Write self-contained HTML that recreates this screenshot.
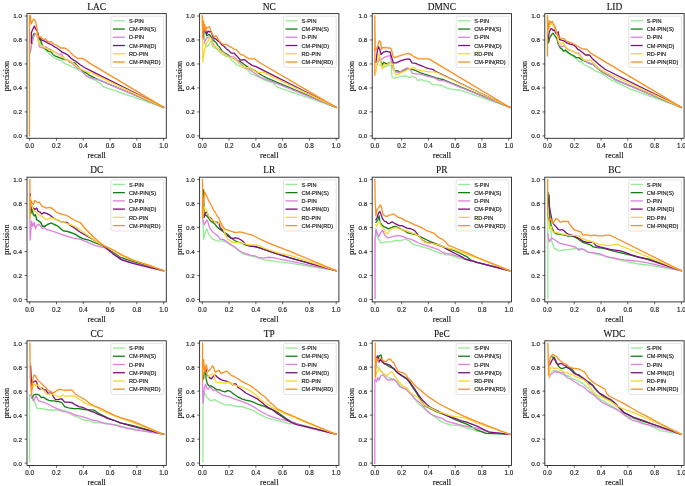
<!DOCTYPE html><html><head><meta charset="utf-8"><style>html,body{margin:0;padding:0;background:#fff;width:685px;height:486px;overflow:hidden}svg{display:block;will-change:transform}</style></head><body>
<svg width="685" height="486" viewBox="0 0 685 486">
<rect width="685" height="486" fill="#fff"/>
<clipPath id="c0"><rect x="27" y="13.6" width="139.3" height="124.7"/></clipPath>
<g clip-path="url(#c0)" fill="none" stroke-linejoin="round" stroke-linecap="square">
<path d="M30.24,53.19 32.19,38.93 34.13,35.04 35.43,33.74 37.37,35.04 39.32,40.22 41.91,46.7 45.15,49.3 48.39,53.19 51.63,55.78 54.22,57.72 58.11,59.67 62,60.96 62,61.5 64.59,63.45 67.19,64.74 69.78,65.39 72.37,67.33 74.96,67.98 78.85,69.93 82.74,72.52 86.63,76.41 90.52,78.35 95.7,80.3 99.59,82.89 103.48,86.78 107.37,88.08 163.6,107.3" stroke="#94eb94" stroke-width="1.3"/>
<path d="M32.25,43 33.17,35.22 34.41,33.37 35.64,33.99 36.88,33.37 38.11,35.22 39.35,38.93 40.58,40.16 43.2,47.35 45.8,49.3 48.39,51.24 50.98,51.89 52.93,54.48 54.87,55.78 58.11,57.08 61.35,58.37 64.59,59.67 67.19,59.56 69.78,62.15 72.37,62.8 74.96,62.8 77.56,66.04 80.15,68.63 84.04,71.87 86.63,73.17 89.22,75.11 93.11,77.06 97,79 163.6,107.3" stroke="#108010" stroke-width="1.3"/>
<path d="M30.24,51.89 32.83,38.93 34.78,33.74 36.72,35.04 38.02,38.93 39.32,46.7 40.61,47.35 43.2,48 45.8,46.7 48.39,48.65 50.98,49.95 54.22,51.89 58.11,53.83 62,54.48 62,55.02 64.59,58.91 68.48,60.85 72.37,63.45 76.26,67.33 80.15,69.28 82.74,71.87 85.33,75.11 89.22,77.06 93.11,78.35 98.3,79.65 163.6,107.3" stroke="#dd80de" stroke-width="1.3"/>
<path d="M31.32,43 31.32,32.75 33.17,28.43 34.41,25.96 35.64,29.05 36.88,30.28 38.11,33.37 38.73,37.69 39.96,38.31 41.91,40.22 43.85,40.87 46.45,42.17 48.39,43.46 51.63,44.76 54.22,46.7 56.82,48 59.41,49.95 62,51.89 62,52.43 64.59,53.07 67.83,55.02 71.07,58.26 73.67,60.2 76.26,61.5 80.15,64.74 85.33,67.98 90.52,70.58 163.6,107.3" stroke="#7d1080" stroke-width="1.3"/>
<path d="M36.26,33.37 37.37,35.04 38.67,42.82 39.96,44.76 41.91,45.41 43.2,47.35 45.15,48 47.74,48.65 49.69,50.59 52.28,50.59 54.87,52.54 58.11,54.48 61.35,56.43 62,56.32 65.89,59.56 69.78,60.85 73.67,63.45 77.56,66.69 81.45,69.28 85.33,71.22 89.22,72.52 91.82,73.17 163.6,107.3" stroke="#f8d830" stroke-width="1.3"/>
<path d="M29.5,135.9 29.5,15.6 30.4,15.47 31.01,24.11 33.48,19.17 34.72,19.79 36.26,24.11 37.19,30.28 38.11,35.84 39.35,37.07 40.58,36.46 41.81,38.31 43.05,38.93 44.28,39.54 45.52,38.93 45.8,38.93 47.09,40.87 49.04,42.17 50.98,41.52 52.93,43.46 55.52,44.76 58.11,46.06 60.7,48 64.59,48 67.19,49.3 69.78,51.89 73.67,55.78 77.56,58.37 82.74,58.37 87.93,61.61 87.93,62.15 163.6,107.3" stroke="#fa9020" stroke-width="1.3"/>
</g>
<rect x="27" y="13.6" width="139.3" height="124.7" fill="none" stroke="#262626" stroke-width="0.9"/>
<path d="M29.68,138.3 v2.4 M27,135.9 h-2.4 M56.47,138.3 v2.4 M27,111.92 h-2.4 M83.26,138.3 v2.4 M27,87.94 h-2.4 M110.04,138.3 v2.4 M27,63.96 h-2.4 M136.83,138.3 v2.4 M27,39.98 h-2.4 M163.62,138.3 v2.4 M27,16 h-2.4" stroke="#000" stroke-width="0.6" fill="none"/>
<g font-family="Liberation Sans, sans-serif" font-size="6.3" fill="#222" stroke="#222" stroke-width="0.16"><text x="29.68" y="147.9" text-anchor="middle">0.0</text><text transform="translate(22.1,138.35) scale(1,0.9)" text-anchor="end">0.0</text><text x="56.47" y="147.9" text-anchor="middle">0.2</text><text transform="translate(22.1,114.37) scale(1,0.9)" text-anchor="end">0.2</text><text x="83.26" y="147.9" text-anchor="middle">0.4</text><text transform="translate(22.1,90.39) scale(1,0.9)" text-anchor="end">0.4</text><text x="110.04" y="147.9" text-anchor="middle">0.6</text><text transform="translate(22.1,66.41) scale(1,0.9)" text-anchor="end">0.6</text><text x="136.83" y="147.9" text-anchor="middle">0.8</text><text transform="translate(22.1,42.43) scale(1,0.9)" text-anchor="end">0.8</text><text x="163.62" y="147.9" text-anchor="middle">1.0</text><text transform="translate(22.1,18.45) scale(1,0.9)" text-anchor="end">1.0</text></g>
<g font-family="Liberation Serif, serif" fill="#111" stroke="#111" stroke-width="0.12">
<text x="96.65" y="157.9" text-anchor="middle" font-size="8.3">recall</text>
<text transform="translate(9.1,75.95) rotate(-90)" text-anchor="middle" font-size="8.3">precision</text>
<text x="96.65" y="9.5" text-anchor="middle" font-size="9.4">LAC</text>
</g>
<rect x="110.9" y="16.2" width="52.7" height="51.2" rx="1.5" fill="#fff" fill-opacity="0.8" stroke="#d0d0d0" stroke-width="0.6"/>
<g font-family="Liberation Sans, sans-serif" font-size="6.2" fill="#222" stroke="#222" stroke-width="0.18"><path d="M112.9,20.8 h12" stroke="#94eb94" stroke-width="1.3"/><text transform="translate(129,23) scale(0.9,1)">S-PIN</text><path d="M112.9,29.04 h12" stroke="#108010" stroke-width="1.3"/><text transform="translate(129,31.24) scale(0.9,1)">CM-PIN(S)</text><path d="M112.9,37.28 h12" stroke="#dd80de" stroke-width="1.3"/><text transform="translate(129,39.48) scale(0.9,1)">D-PIN</text><path d="M112.9,45.52 h12" stroke="#7d1080" stroke-width="1.3"/><text transform="translate(129,47.72) scale(0.9,1)">CM-PIN(D)</text><path d="M112.9,53.76 h12" stroke="#f8d830" stroke-width="1.3"/><text transform="translate(129,55.96) scale(0.9,1)">RD-PIN</text><path d="M112.9,62 h12" stroke="#fa9020" stroke-width="1.3"/><text transform="translate(129,64.2) scale(0.9,1)">CM-PIN(RD)</text></g>
<clipPath id="c1"><rect x="199.6" y="13.6" width="139.3" height="124.7"/></clipPath>
<g clip-path="url(#c1)" fill="none" stroke-linejoin="round" stroke-linecap="square">
<path d="M203.54,24.67 204.83,42.82 206.13,46.7 208.07,46.06 210.02,42.82 211.32,40.22 212.61,46.7 214.56,48 217.15,49.3 219.74,51.89 222.33,54.48 224.93,55.78 228.82,57.08 231.41,59.67 234,62.26 236.59,64.74 240.48,66.69 244.37,67.98 248.26,70.58 250.85,73.82 254.74,75.11 259.93,77.7 265.11,80.3 269,81.59 272.89,82.89 275.48,85.48 278.08,87.43 336.2,107.3" stroke="#94eb94" stroke-width="1.3"/>
<path d="M203.54,25.96 204.83,29.85 206.78,35.69 208.72,34.39 210.67,35.69 211.96,38.93 213.91,40.87 215.85,42.17 217.8,45.41 219.74,47.35 222.33,51.24 224.93,53.19 227.52,54.48 230.11,56.43 232.7,57.72 235.3,59.02 237.89,61.61 239.19,60.85 243.07,63.45 246.96,66.69 250.85,68.63 254.74,70.58 258.63,73.17 262.52,75.76 267.7,78.35 336.2,107.3" stroke="#108010" stroke-width="1.3"/>
<path d="M204.19,42.82 206.78,37.63 209.37,36.98 211.32,38.28 213.26,44.11 215.2,46.7 217.15,48.65 219.74,49.95 222.33,51.89 224.93,53.83 228.17,55.78 231.41,57.08 234,56.96 237.89,60.85 241.78,64.74 244.37,67.98 248.26,68.63 253.45,72.52 257.33,75.11 261.22,77.7 266.41,79.65 270.3,80.95 336.2,107.3" stroke="#dd80de" stroke-width="1.3"/>
<path d="M202.89,38.93 204.19,28.56 205.48,29.85 206.78,33.74 208.07,31.15 209.37,31.8 210.67,31.15 211.96,33.74 213.26,38.28 214.56,38.93 215.85,38.93 217.8,40.87 219.74,42.17 221.69,44.76 223.63,46.06 226.22,48.65 228.82,50.59 231.41,53.19 234,53.07 236.59,55.67 240.48,60.2 244.37,59.56 248.26,62.8 252.15,65.39 256.04,66.69 259.93,68.63 336.2,107.3" stroke="#7d1080" stroke-width="1.3"/>
<path d="M202.24,16.89 202.89,62.26 204.19,51.89 206.13,44.11 208.07,40.87 210.02,37.63 211.32,38.93 212.61,45.41 214.56,46.06 217.15,48 219.74,50.59 222.33,52.54 224.93,54.48 228.82,57.08 232.7,57.72 234,58.26 237.89,62.15 241.78,66.04 245.67,67.98 248.91,67.33 252.15,69.28 256.04,71.87 259.93,72.52 262.52,71.87 336.2,107.3" stroke="#f8d830" stroke-width="1.3"/>
<path d="M202.24,15.59 202.89,37.63 203.54,20.78 204.19,29.85 204.83,24.67 205.48,31.15 206.78,27.26 208.07,27.91 209.37,26.61 210.67,29.85 211.96,33.74 213.26,35.69 214.56,36.98 215.85,35.69 217.15,37.63 219.09,40.87 221.04,42.82 223.63,44.76 226.22,44.11 228.82,46.06 231.41,47.35 234,49.19 236.59,49.83 240.48,54.37 243.07,55.02 246.96,57.61 249.56,58.91 254.74,58.91 259.93,62.8 336.2,107.3" stroke="#fa9020" stroke-width="1.3"/>
</g>
<rect x="199.6" y="13.6" width="139.3" height="124.7" fill="none" stroke="#262626" stroke-width="0.9"/>
<path d="M202.28,138.3 v2.4 M199.6,135.9 h-2.4 M229.07,138.3 v2.4 M199.6,111.92 h-2.4 M255.86,138.3 v2.4 M199.6,87.94 h-2.4 M282.64,138.3 v2.4 M199.6,63.96 h-2.4 M309.43,138.3 v2.4 M199.6,39.98 h-2.4 M336.22,138.3 v2.4 M199.6,16 h-2.4" stroke="#000" stroke-width="0.6" fill="none"/>
<g font-family="Liberation Sans, sans-serif" font-size="6.3" fill="#222" stroke="#222" stroke-width="0.16"><text x="202.28" y="147.9" text-anchor="middle">0.0</text><text transform="translate(194.7,138.35) scale(1,0.9)" text-anchor="end">0.0</text><text x="229.07" y="147.9" text-anchor="middle">0.2</text><text transform="translate(194.7,114.37) scale(1,0.9)" text-anchor="end">0.2</text><text x="255.86" y="147.9" text-anchor="middle">0.4</text><text transform="translate(194.7,90.39) scale(1,0.9)" text-anchor="end">0.4</text><text x="282.64" y="147.9" text-anchor="middle">0.6</text><text transform="translate(194.7,66.41) scale(1,0.9)" text-anchor="end">0.6</text><text x="309.43" y="147.9" text-anchor="middle">0.8</text><text transform="translate(194.7,42.43) scale(1,0.9)" text-anchor="end">0.8</text><text x="336.22" y="147.9" text-anchor="middle">1.0</text><text transform="translate(194.7,18.45) scale(1,0.9)" text-anchor="end">1.0</text></g>
<g font-family="Liberation Serif, serif" fill="#111" stroke="#111" stroke-width="0.12">
<text x="269.25" y="157.9" text-anchor="middle" font-size="8.3">recall</text>
<text transform="translate(181.7,75.95) rotate(-90)" text-anchor="middle" font-size="8.3">precision</text>
<text x="269.25" y="9.5" text-anchor="middle" font-size="9.4">NC</text>
</g>
<rect x="283.5" y="16.2" width="52.7" height="51.2" rx="1.5" fill="#fff" fill-opacity="0.8" stroke="#d0d0d0" stroke-width="0.6"/>
<g font-family="Liberation Sans, sans-serif" font-size="6.2" fill="#222" stroke="#222" stroke-width="0.18"><path d="M285.5,20.8 h12" stroke="#94eb94" stroke-width="1.3"/><text transform="translate(301.6,23) scale(0.9,1)">S-PIN</text><path d="M285.5,29.04 h12" stroke="#108010" stroke-width="1.3"/><text transform="translate(301.6,31.24) scale(0.9,1)">CM-PIN(S)</text><path d="M285.5,37.28 h12" stroke="#dd80de" stroke-width="1.3"/><text transform="translate(301.6,39.48) scale(0.9,1)">D-PIN</text><path d="M285.5,45.52 h12" stroke="#7d1080" stroke-width="1.3"/><text transform="translate(301.6,47.72) scale(0.9,1)">CM-PIN(D)</text><path d="M285.5,53.76 h12" stroke="#f8d830" stroke-width="1.3"/><text transform="translate(301.6,55.96) scale(0.9,1)">RD-PIN</text><path d="M285.5,62 h12" stroke="#fa9020" stroke-width="1.3"/><text transform="translate(301.6,64.2) scale(0.9,1)">CM-PIN(RD)</text></g>
<clipPath id="c2"><rect x="372.2" y="13.6" width="139.3" height="124.7"/></clipPath>
<g clip-path="url(#c2)" fill="none" stroke-linejoin="round" stroke-linecap="square">
<path d="M379.78,64.85 383.67,67.45 386.26,66.15 388.85,64.85 391.45,66.15 391.94,76.41 393.89,78.35 397.78,77.06 401.67,76.41 405.56,75.76 409.45,77.7 412.04,76.41 413.98,77.06 415.93,77.7 417.22,80.3 421.11,79.65 425,80.95 428.89,81.59 432.78,84.83 436.67,84.83 441.85,85.48 447.04,88.08 452.22,89.37 460,90.02 509.8,107.3" stroke="#94eb94" stroke-width="1.3"/>
<path d="M379.13,58.37 382.37,64.85 383.67,62.26 384.96,62.91 386.91,64.21 388.85,62.91 390.8,62.26 392.74,64.85 394.69,71.34 396.48,70.58 400.37,71.87 404.26,70.58 408.15,68.63 412.04,69.28 415.93,70.58 419.82,72.52 423.7,73.82 427.59,75.11 431.48,76.41 435.37,77.7 439.26,78.74 443.15,79.65 509.8,107.3" stroke="#108010" stroke-width="1.3"/>
<path d="M377.19,64.85 379.13,58.37 381.07,59.67 383.02,58.37 384.96,57.08 386.91,56.43 388.85,55.78 390.15,55.13 392.59,67.33 395.19,71.87 399.07,72.52 402.96,69.93 406.85,67.98 410.09,68.63 412.04,73.17 415.93,73.82 419.82,73.82 423.7,75.11 427.59,76.41 431.48,77.06 435.37,78.35 439.26,80.3 444.45,80.95 509.8,107.3" stroke="#dd80de" stroke-width="1.3"/>
<path d="M375.89,62.26 377.19,51.89 378.48,46.7 379.78,49.3 381.07,54.48 382.37,53.19 383.67,51.89 384.96,51.89 386.26,51.24 388.2,51.89 390,51.78 391.94,58.26 393.24,62.8 396.48,62.8 400.37,60.85 404.26,59.56 408.15,58.91 410.09,59.56 412.04,62.8 415.93,63.45 418.52,64.74 422.41,66.04 426.3,67.98 428.89,68.63 432.78,69.28 435.37,71.22 509.8,107.3" stroke="#7d1080" stroke-width="1.3"/>
<path d="M375.89,72.63 377.19,63.56 379.13,53.19 380.43,60.96 382.37,68.74 384.32,64.85 386.91,64.85 388.85,63.56 390,62.15 392.59,64.74 395.19,73.82 396.48,75.11 400.37,73.17 404.26,71.22 408.15,69.28 412.04,67.98 414.63,67.98 417.22,69.93 421.11,70.58 425,71.22 428.89,71.87 434.08,71.87 436.67,72.52 509.8,107.3" stroke="#f8d830" stroke-width="1.3"/>
<path d="M374.85,75.22 374.85,15.59 375.24,50.59 376.54,49.3 377.83,45.41 379.13,40.87 380.43,41.52 381.72,49.3 383.02,47.35 384.32,48 385.61,47.35 387.56,48 390,47.89 391.3,49.19 393.24,56.96 395.19,57.61 397.78,56.32 400.37,55.67 404.26,54.37 408.15,53.33 410.74,54.37 413.33,56.32 415.93,57.61 418.52,58.91 422.41,58.91 428.89,58.91 509.8,107.3" stroke="#fa9020" stroke-width="1.3"/>
</g>
<rect x="372.2" y="13.6" width="139.3" height="124.7" fill="none" stroke="#262626" stroke-width="0.9"/>
<path d="M374.88,138.3 v2.4 M372.2,135.9 h-2.4 M401.67,138.3 v2.4 M372.2,111.92 h-2.4 M428.46,138.3 v2.4 M372.2,87.94 h-2.4 M455.24,138.3 v2.4 M372.2,63.96 h-2.4 M482.03,138.3 v2.4 M372.2,39.98 h-2.4 M508.82,138.3 v2.4 M372.2,16 h-2.4" stroke="#000" stroke-width="0.6" fill="none"/>
<g font-family="Liberation Sans, sans-serif" font-size="6.3" fill="#222" stroke="#222" stroke-width="0.16"><text x="374.88" y="147.9" text-anchor="middle">0.0</text><text transform="translate(367.3,138.35) scale(1,0.9)" text-anchor="end">0.0</text><text x="401.67" y="147.9" text-anchor="middle">0.2</text><text transform="translate(367.3,114.37) scale(1,0.9)" text-anchor="end">0.2</text><text x="428.46" y="147.9" text-anchor="middle">0.4</text><text transform="translate(367.3,90.39) scale(1,0.9)" text-anchor="end">0.4</text><text x="455.24" y="147.9" text-anchor="middle">0.6</text><text transform="translate(367.3,66.41) scale(1,0.9)" text-anchor="end">0.6</text><text x="482.03" y="147.9" text-anchor="middle">0.8</text><text transform="translate(367.3,42.43) scale(1,0.9)" text-anchor="end">0.8</text><text x="508.82" y="147.9" text-anchor="middle">1.0</text><text transform="translate(367.3,18.45) scale(1,0.9)" text-anchor="end">1.0</text></g>
<g font-family="Liberation Serif, serif" fill="#111" stroke="#111" stroke-width="0.12">
<text x="441.85" y="157.9" text-anchor="middle" font-size="8.3">recall</text>
<text transform="translate(354.3,75.95) rotate(-90)" text-anchor="middle" font-size="8.3">precision</text>
<text x="441.85" y="9.5" text-anchor="middle" font-size="9.4">DMNC</text>
</g>
<rect x="456.1" y="16.2" width="52.7" height="51.2" rx="1.5" fill="#fff" fill-opacity="0.8" stroke="#d0d0d0" stroke-width="0.6"/>
<g font-family="Liberation Sans, sans-serif" font-size="6.2" fill="#222" stroke="#222" stroke-width="0.18"><path d="M458.1,20.8 h12" stroke="#94eb94" stroke-width="1.3"/><text transform="translate(474.2,23) scale(0.9,1)">S-PIN</text><path d="M458.1,29.04 h12" stroke="#108010" stroke-width="1.3"/><text transform="translate(474.2,31.24) scale(0.9,1)">CM-PIN(S)</text><path d="M458.1,37.28 h12" stroke="#dd80de" stroke-width="1.3"/><text transform="translate(474.2,39.48) scale(0.9,1)">D-PIN</text><path d="M458.1,45.52 h12" stroke="#7d1080" stroke-width="1.3"/><text transform="translate(474.2,47.72) scale(0.9,1)">CM-PIN(D)</text><path d="M458.1,53.76 h12" stroke="#f8d830" stroke-width="1.3"/><text transform="translate(474.2,55.96) scale(0.9,1)">RD-PIN</text><path d="M458.1,62 h12" stroke="#fa9020" stroke-width="1.3"/><text transform="translate(474.2,64.2) scale(0.9,1)">CM-PIN(RD)</text></g>
<clipPath id="c3"><rect x="544.8" y="13.6" width="139.3" height="124.7"/></clipPath>
<g clip-path="url(#c3)" fill="none" stroke-linejoin="round" stroke-linecap="square">
<path d="M560.2,46.06 563.45,50.59 566.69,51.89 569.93,54.48 573.17,56.43 576.41,59.02 579,60.96 579,62.15 581.59,61.5 584.19,64.74 588.07,66.69 591.96,68.63 595.85,71.22 601.04,73.17 604.93,75.11 607.52,77.7 611.41,80.3 615.3,81.59 620.48,84.19 625.67,86.78 630.85,89.37 637.34,91.32 649,95.85 681.4,107.3" stroke="#94eb94" stroke-width="1.3"/>
<path d="M548.54,42.82 549.83,37.63 551.78,34.39 553.07,33.09 554.37,35.04 555.67,36.98 556.96,38.93 558.26,44.11 560.2,48 562.15,49.3 563.45,51.24 565.39,49.95 567.33,51.89 569.28,53.19 571.22,54.48 573.82,55.78 576.41,57.72 579,57.61 581.59,59.56 585.48,61.5 589.37,63.45 593.26,64.74 595.85,66.69 598.45,69.28 602.33,71.87 610.11,76.41 615.3,79.65 681.4,107.3" stroke="#108010" stroke-width="1.3"/>
<path d="M558.26,44.11 560.2,46.06 562.15,46.7 564.09,45.41 566.04,48 568.63,49.95 571.22,50.59 573.82,51.89 576.41,53.19 579,53.07 582.89,59.56 586.78,62.15 590.67,63.45 594.56,65.39 599.74,69.93 604.93,73.17 610.11,76.41 615.3,79.65 681.4,107.3" stroke="#dd80de" stroke-width="1.3"/>
<path d="M547.89,41.52 549.19,32.45 550.48,29.2 551.78,28.56 553.07,30.5 554.37,29.85 555.67,33.09 556.96,34.39 558.26,31.8 559.56,39.58 561.5,40.22 564.09,40.87 566.69,42.82 569.93,44.11 573.17,44.76 575.76,46.7 577.7,49.3 579,49.83 581.59,51.78 585.48,55.02 589.37,55.02 593.26,59.56 598.45,64.09 604.93,69.28 681.4,107.3" stroke="#7d1080" stroke-width="1.3"/>
<path d="M547.89,32.45 549.83,23.37 551.78,24.67 553.72,26.61 555.67,29.85 556.96,33.74 558.26,41.52 559.56,42.82 561.5,44.11 563.45,42.17 564.74,45.41 566.69,48 569.93,49.95 573.17,51.24 576.41,53.19 579,54.37 581.59,57.61 584.19,60.2 588.07,60.2 590.67,60.2 593.26,62.8 598.45,67.98 603.63,71.22 681.4,107.3" stroke="#f8d830" stroke-width="1.3"/>
<path d="M547.5,55.78 547.5,15.59 548.54,28.56 549.83,20.78 551.13,22.72 552.43,21.43 553.72,24.67 555.02,26.61 556.32,31.15 557.61,35.04 558.91,37.63 560.85,38.28 563.45,38.28 566.04,40.87 569.28,42.17 572.52,43.46 575.11,44.76 577.7,46.06 579,47.24 582.89,49.19 586.78,49.19 590.67,53.07 681.4,107.3" stroke="#fa9020" stroke-width="1.3"/>
</g>
<rect x="544.8" y="13.6" width="139.3" height="124.7" fill="none" stroke="#262626" stroke-width="0.9"/>
<path d="M547.48,138.3 v2.4 M544.8,135.9 h-2.4 M574.27,138.3 v2.4 M544.8,111.92 h-2.4 M601.06,138.3 v2.4 M544.8,87.94 h-2.4 M627.84,138.3 v2.4 M544.8,63.96 h-2.4 M654.63,138.3 v2.4 M544.8,39.98 h-2.4 M681.42,138.3 v2.4 M544.8,16 h-2.4" stroke="#000" stroke-width="0.6" fill="none"/>
<g font-family="Liberation Sans, sans-serif" font-size="6.3" fill="#222" stroke="#222" stroke-width="0.16"><text x="547.48" y="147.9" text-anchor="middle">0.0</text><text transform="translate(539.9,138.35) scale(1,0.9)" text-anchor="end">0.0</text><text x="574.27" y="147.9" text-anchor="middle">0.2</text><text transform="translate(539.9,114.37) scale(1,0.9)" text-anchor="end">0.2</text><text x="601.06" y="147.9" text-anchor="middle">0.4</text><text transform="translate(539.9,90.39) scale(1,0.9)" text-anchor="end">0.4</text><text x="627.84" y="147.9" text-anchor="middle">0.6</text><text transform="translate(539.9,66.41) scale(1,0.9)" text-anchor="end">0.6</text><text x="654.63" y="147.9" text-anchor="middle">0.8</text><text transform="translate(539.9,42.43) scale(1,0.9)" text-anchor="end">0.8</text><text x="681.42" y="147.9" text-anchor="middle">1.0</text><text transform="translate(539.9,18.45) scale(1,0.9)" text-anchor="end">1.0</text></g>
<g font-family="Liberation Serif, serif" fill="#111" stroke="#111" stroke-width="0.12">
<text x="614.45" y="157.9" text-anchor="middle" font-size="8.3">recall</text>
<text transform="translate(526.9,75.95) rotate(-90)" text-anchor="middle" font-size="8.3">precision</text>
<text x="614.45" y="9.5" text-anchor="middle" font-size="9.4">LID</text>
</g>
<rect x="628.7" y="16.2" width="52.7" height="51.2" rx="1.5" fill="#fff" fill-opacity="0.8" stroke="#d0d0d0" stroke-width="0.6"/>
<g font-family="Liberation Sans, sans-serif" font-size="6.2" fill="#222" stroke="#222" stroke-width="0.18"><path d="M630.7,20.8 h12" stroke="#94eb94" stroke-width="1.3"/><text transform="translate(646.8,23) scale(0.9,1)">S-PIN</text><path d="M630.7,29.04 h12" stroke="#108010" stroke-width="1.3"/><text transform="translate(646.8,31.24) scale(0.9,1)">CM-PIN(S)</text><path d="M630.7,37.28 h12" stroke="#dd80de" stroke-width="1.3"/><text transform="translate(646.8,39.48) scale(0.9,1)">D-PIN</text><path d="M630.7,45.52 h12" stroke="#7d1080" stroke-width="1.3"/><text transform="translate(646.8,47.72) scale(0.9,1)">CM-PIN(D)</text><path d="M630.7,53.76 h12" stroke="#f8d830" stroke-width="1.3"/><text transform="translate(646.8,55.96) scale(0.9,1)">RD-PIN</text><path d="M630.7,62 h12" stroke="#fa9020" stroke-width="1.3"/><text transform="translate(646.8,64.2) scale(0.9,1)">CM-PIN(RD)</text></g>
<clipPath id="c4"><rect x="27" y="177.2" width="139.3" height="124.7"/></clipPath>
<g clip-path="url(#c4)" fill="none" stroke-linejoin="round" stroke-linecap="square">
<path d="M30.89,213.3 32.19,207.46 32.83,213.3 34.13,215.89 35.43,214.59 36.72,219.78 38.67,221.08 40.61,222.37 42.56,226.26 45.15,226.26 47.74,224.32 50.98,223.02 54.22,224.32 58.11,226.26 60.7,228.85 63.3,230.8 67.19,231.45 71.08,232.74 74.96,234.04 78.85,236.63 82.74,238.58 87.78,239.76 95.56,243 103.98,246.24 112.41,252.08 120.19,257.26 131.85,261.15 150,266.98 163.6,270.7" stroke="#94eb94" stroke-width="1.3"/>
<path d="M30.89,213.3 32.19,207.46 32.83,213.3 34.13,215.89 35.43,214.59 36.72,219.78 38.67,221.08 40.61,222.37 42.56,226.26 45.15,226.26 47.74,224.32 50.98,223.02 54.22,224.32 58.11,226.26 60.7,228.85 63.3,230.8 67.19,231.45 71.08,232.74 74.96,234.04 78.85,236.63 82.74,238.58 87.78,239.76 95.56,243 103.98,246.24 112.41,252.08 120.19,257.26 131.85,261.15 150,266.98 163.6,270.7" stroke="#108010" stroke-width="1.3"/>
<path d="M29.85,219.78 30.24,240 31.54,221.08 32.83,226.26 34.13,222.37 35.43,228.85 36.72,225.61 38.67,224.32 40.61,226.26 42.56,228.85 44.5,227.56 46.45,229.5 49.04,230.15 52.93,231.45 56.82,232.74 60.7,234.04 64.59,235.34 68.48,236.63 72.37,237.93 80,239.11 87.78,242.35 95.56,245.59 103.98,247.54 112.41,252.72 120.19,258.56 131.85,262.45 150,267.37 163.6,270.7" stroke="#dd80de" stroke-width="1.3"/>
<path d="M30.24,193.85 30.89,209.41 31.54,205.52 32.83,208.11 34.78,209.41 36.72,208.11 38.02,211.35 39.96,212 41.91,213.95 43.85,212.65 46.45,213.3 49.04,214.59 51.63,216.54 54.22,218.48 58.11,220.43 60.7,221.72 64.59,222.37 67.19,222.37 69.78,224.96 73.67,227.56 77.56,230.15 80,231.98 87.78,236.52 95.56,241.06 103.98,246.24 112.41,253.37 121.48,259.85 131.85,263.09 150,267.63 163.6,270.7" stroke="#7d1080" stroke-width="1.3"/>
<path d="M30.24,196.45 30.89,202.93 32.19,206.82 33.48,210.7 36.07,212 38.67,214.59 41.26,215.89 43.85,217.83 46.45,219.78 49.04,218.48 51.63,217.83 55.52,219.13 59.41,221.08 63.3,222.37 67.19,223.67 71.08,224.96 74.96,226.26 78.85,228.85 80,229.39 86.48,234.58 92.96,239.11 99.45,243.65 103.98,245.59 112.41,250.13 121.48,255.32 131.85,259.85 150,265.69 163.6,270.7" stroke="#f8d830" stroke-width="1.3"/>
<path d="M29.85,179.59 29.85,218.48 30.89,200.33 32.19,202.93 33.48,204.22 34.78,200.33 36.07,201.63 37.37,202.28 39.32,202.28 40.61,204.22 41.91,206.17 43.85,206.82 46.45,208.11 49.04,207.46 51.63,208.11 54.22,210.06 56.17,212 59.41,213.3 63.3,214.59 65.89,215.24 69.78,217.19 73.67,219.78 77.56,221.72 80,222.26 86.48,230.04 92.96,236.52 99.45,242.35 103.98,245.59 112.41,249.48 122.78,255.32 134.45,260.5 150,265.69 163.6,270.7" stroke="#fa9020" stroke-width="1.3"/>
</g>
<rect x="27" y="177.2" width="139.3" height="124.7" fill="none" stroke="#262626" stroke-width="0.9"/>
<path d="M29.68,301.9 v2.4 M27,299.5 h-2.4 M56.47,301.9 v2.4 M27,275.52 h-2.4 M83.26,301.9 v2.4 M27,251.54 h-2.4 M110.04,301.9 v2.4 M27,227.56 h-2.4 M136.83,301.9 v2.4 M27,203.58 h-2.4 M163.62,301.9 v2.4 M27,179.6 h-2.4" stroke="#000" stroke-width="0.6" fill="none"/>
<g font-family="Liberation Sans, sans-serif" font-size="6.3" fill="#222" stroke="#222" stroke-width="0.16"><text x="29.68" y="311.5" text-anchor="middle">0.0</text><text transform="translate(22.1,301.95) scale(1,0.9)" text-anchor="end">0.0</text><text x="56.47" y="311.5" text-anchor="middle">0.2</text><text transform="translate(22.1,277.97) scale(1,0.9)" text-anchor="end">0.2</text><text x="83.26" y="311.5" text-anchor="middle">0.4</text><text transform="translate(22.1,253.99) scale(1,0.9)" text-anchor="end">0.4</text><text x="110.04" y="311.5" text-anchor="middle">0.6</text><text transform="translate(22.1,230.01) scale(1,0.9)" text-anchor="end">0.6</text><text x="136.83" y="311.5" text-anchor="middle">0.8</text><text transform="translate(22.1,206.03) scale(1,0.9)" text-anchor="end">0.8</text><text x="163.62" y="311.5" text-anchor="middle">1.0</text><text transform="translate(22.1,182.05) scale(1,0.9)" text-anchor="end">1.0</text></g>
<g font-family="Liberation Serif, serif" fill="#111" stroke="#111" stroke-width="0.12">
<text x="96.65" y="321.5" text-anchor="middle" font-size="8.3">recall</text>
<text transform="translate(9.1,239.55) rotate(-90)" text-anchor="middle" font-size="8.3">precision</text>
<text x="96.65" y="173.1" text-anchor="middle" font-size="9.4">DC</text>
</g>
<rect x="110.9" y="179.8" width="52.7" height="51.2" rx="1.5" fill="#fff" fill-opacity="0.8" stroke="#d0d0d0" stroke-width="0.6"/>
<g font-family="Liberation Sans, sans-serif" font-size="6.2" fill="#222" stroke="#222" stroke-width="0.18"><path d="M112.9,184.4 h12" stroke="#94eb94" stroke-width="1.3"/><text transform="translate(129,186.6) scale(0.9,1)">S-PIN</text><path d="M112.9,192.64 h12" stroke="#108010" stroke-width="1.3"/><text transform="translate(129,194.84) scale(0.9,1)">CM-PIN(S)</text><path d="M112.9,200.88 h12" stroke="#dd80de" stroke-width="1.3"/><text transform="translate(129,203.08) scale(0.9,1)">D-PIN</text><path d="M112.9,209.12 h12" stroke="#7d1080" stroke-width="1.3"/><text transform="translate(129,211.32) scale(0.9,1)">CM-PIN(D)</text><path d="M112.9,217.36 h12" stroke="#f8d830" stroke-width="1.3"/><text transform="translate(129,219.56) scale(0.9,1)">RD-PIN</text><path d="M112.9,225.6 h12" stroke="#fa9020" stroke-width="1.3"/><text transform="translate(129,227.8) scale(0.9,1)">CM-PIN(RD)</text></g>
<clipPath id="c5"><rect x="199.6" y="177.2" width="139.3" height="124.7"/></clipPath>
<g clip-path="url(#c5)" fill="none" stroke-linejoin="round" stroke-linecap="square">
<path d="M202.89,218.48 203.54,239.22 205.48,231.45 206.78,228.85 208.72,234.04 210.67,236.63 212.61,239.22 216.5,240.52 220,241.06 223.89,241.06 227.78,243 231.67,245.59 235.56,248.19 239.45,251.43 243.33,254.02 248.52,255.32 253.7,256.61 258.89,257.91 264.08,259.85 269.26,260.5 274.45,261.15 279.63,261.8 290,263.09 336.2,270.7" stroke="#94eb94" stroke-width="1.3"/>
<path d="M203.54,189.96 204.19,215.89 204.83,214.59 206.78,215.89 208.72,218.48 210.67,221.08 212.61,222.37 214.56,223.67 216.5,226.26 218.45,228.21 220,229.39 223.89,231.98 227.78,234.58 231.67,238.46 235.56,241.06 240.74,243 245.93,244.95 251.11,246.24 256.3,246.89 260.19,248.19 271.85,252.08 279.63,254.67 290,257.91 336.2,270.7" stroke="#108010" stroke-width="1.3"/>
<path d="M202.89,219.78 204.19,224.96 205.48,222.37 206.78,219.78 208.07,222.37 209.37,227.56 211.32,230.15 213.26,232.74 215.2,234.04 217.15,235.34 219.09,237.28 220,239.11 223.89,239.76 227.78,242.35 231.67,244.95 235.56,247.54 239.45,250.78 243.33,252.72 247.22,254.02 251.11,255.32 255,255.96 258.89,257.91 264.08,257.91 269.26,257.26 274.45,257.91 279.63,259.21 290,261.15 336.2,270.7" stroke="#dd80de" stroke-width="1.3"/>
<path d="M204.19,217.19 205.48,212.65 206.78,212 208.07,215.24 209.37,217.19 211.32,218.48 213.26,221.08 215.2,221.72 217.15,222.37 219.09,223.67 220,227.45 222.59,230.04 225.19,233.93 227.78,235.87 230.37,237.82 232.96,238.46 235.56,237.82 238.15,238.46 240.74,239.76 243.33,241.7 245.93,244.95 249.82,246.24 253.7,246.24 258.89,247.54 264.08,249.48 271.85,252.08 279.63,254.67 290,257.91 336.2,270.7" stroke="#7d1080" stroke-width="1.3"/>
<path d="M202.89,215.89 204.19,206.82 205.48,208.76 206.78,210.7 208.07,214.59 210.02,218.48 211.96,219.78 213.91,221.08 215.85,222.37 217.8,223.67 220,222.26 222.59,227.45 225.19,233.93 227.78,239.11 230.37,241.06 232.96,242.35 236.85,242.35 240.74,243 244.63,243.65 248.52,244.95 253.7,244.95 258.89,245.59 264.08,248.19 271.85,250.78 279.63,253.37 290,255.32 336.2,270.7" stroke="#f8d830" stroke-width="1.3"/>
<path d="M202.5,179.59 202.5,218.48 203.54,200.33 204.83,191.91 206.13,195.15 207.43,197.74 208.72,200.98 210.02,202.93 211.32,205.52 212.61,208.11 213.91,210.7 215.2,212 216.5,214.59 217.8,216.54 219.09,218.48 220,220.96 222.59,226.15 225.19,229.39 227.78,230.04 231.67,231.33 235.56,232.63 239.45,231.98 243.33,232.63 247.22,233.93 251.11,234.58 255,236.52 258.89,238.46 265.37,241.7 271.85,244.3 278.34,246.89 290,251.43 336.2,270.7" stroke="#fa9020" stroke-width="1.3"/>
</g>
<rect x="199.6" y="177.2" width="139.3" height="124.7" fill="none" stroke="#262626" stroke-width="0.9"/>
<path d="M202.28,301.9 v2.4 M199.6,299.5 h-2.4 M229.07,301.9 v2.4 M199.6,275.52 h-2.4 M255.86,301.9 v2.4 M199.6,251.54 h-2.4 M282.64,301.9 v2.4 M199.6,227.56 h-2.4 M309.43,301.9 v2.4 M199.6,203.58 h-2.4 M336.22,301.9 v2.4 M199.6,179.6 h-2.4" stroke="#000" stroke-width="0.6" fill="none"/>
<g font-family="Liberation Sans, sans-serif" font-size="6.3" fill="#222" stroke="#222" stroke-width="0.16"><text x="202.28" y="311.5" text-anchor="middle">0.0</text><text transform="translate(194.7,301.95) scale(1,0.9)" text-anchor="end">0.0</text><text x="229.07" y="311.5" text-anchor="middle">0.2</text><text transform="translate(194.7,277.97) scale(1,0.9)" text-anchor="end">0.2</text><text x="255.86" y="311.5" text-anchor="middle">0.4</text><text transform="translate(194.7,253.99) scale(1,0.9)" text-anchor="end">0.4</text><text x="282.64" y="311.5" text-anchor="middle">0.6</text><text transform="translate(194.7,230.01) scale(1,0.9)" text-anchor="end">0.6</text><text x="309.43" y="311.5" text-anchor="middle">0.8</text><text transform="translate(194.7,206.03) scale(1,0.9)" text-anchor="end">0.8</text><text x="336.22" y="311.5" text-anchor="middle">1.0</text><text transform="translate(194.7,182.05) scale(1,0.9)" text-anchor="end">1.0</text></g>
<g font-family="Liberation Serif, serif" fill="#111" stroke="#111" stroke-width="0.12">
<text x="269.25" y="321.5" text-anchor="middle" font-size="8.3">recall</text>
<text transform="translate(181.7,239.55) rotate(-90)" text-anchor="middle" font-size="8.3">precision</text>
<text x="269.25" y="173.1" text-anchor="middle" font-size="9.4">LR</text>
</g>
<rect x="283.5" y="179.8" width="52.7" height="51.2" rx="1.5" fill="#fff" fill-opacity="0.8" stroke="#d0d0d0" stroke-width="0.6"/>
<g font-family="Liberation Sans, sans-serif" font-size="6.2" fill="#222" stroke="#222" stroke-width="0.18"><path d="M285.5,184.4 h12" stroke="#94eb94" stroke-width="1.3"/><text transform="translate(301.6,186.6) scale(0.9,1)">S-PIN</text><path d="M285.5,192.64 h12" stroke="#108010" stroke-width="1.3"/><text transform="translate(301.6,194.84) scale(0.9,1)">CM-PIN(S)</text><path d="M285.5,200.88 h12" stroke="#dd80de" stroke-width="1.3"/><text transform="translate(301.6,203.08) scale(0.9,1)">D-PIN</text><path d="M285.5,209.12 h12" stroke="#7d1080" stroke-width="1.3"/><text transform="translate(301.6,211.32) scale(0.9,1)">CM-PIN(D)</text><path d="M285.5,217.36 h12" stroke="#f8d830" stroke-width="1.3"/><text transform="translate(301.6,219.56) scale(0.9,1)">RD-PIN</text><path d="M285.5,225.6 h12" stroke="#fa9020" stroke-width="1.3"/><text transform="translate(301.6,227.8) scale(0.9,1)">CM-PIN(RD)</text></g>
<clipPath id="c6"><rect x="372.2" y="177.2" width="139.3" height="124.7"/></clipPath>
<g clip-path="url(#c6)" fill="none" stroke-linejoin="round" stroke-linecap="square">
<path d="M375.89,231.45 377.19,236.63 381.07,243.11 384.96,241.82 390.15,241.82 395.33,240.52 400.52,240.52 405.7,239.22 410.89,241.82 410.89,243 414.78,244.95 419.96,246.24 425.15,247.54 430.33,249.48 435.52,251.43 440.7,253.37 445.89,254.67 451.08,255.32 456.26,257.26 461.45,258.56 466.63,259.85 471.82,261.15 477,262.45 509.8,270.7" stroke="#94eb94" stroke-width="1.3"/>
<path d="M375.89,222.37 377.83,219.78 379.13,215.89 379.78,221.08 381.07,223.67 382.37,225.61 384.32,226.91 386.26,227.56 388.2,228.85 390.15,228.21 392.74,226.91 395.33,226.26 397.93,227.56 400.52,228.85 403.11,230.15 405.7,231.45 407,232.63 412.19,233.93 417.37,235.22 422.56,237.82 426.45,239.76 430.33,241.7 435.52,243.65 440.7,245.59 445.89,248.19 451.08,249.48 456.26,251.43 461.45,254.02 466.63,256.61 470.52,259.85 477,262.45 509.8,270.7" stroke="#108010" stroke-width="1.3"/>
<path d="M374.85,240 375.11,298.86 375.11,239.22 375.89,228.85 378.48,236.63 382.37,230.15 384.96,235.34 387.56,237.93 392.74,236.63 397.93,235.34 403.11,236.63 407,238.46 410.89,239.11 414.78,241.06 418.67,243 422.56,244.3 426.45,245.59 430.33,246.89 434.22,248.19 438.11,249.48 442,252.08 445.89,253.37 451.08,254.02 456.26,255.96 461.45,257.26 466.63,259.21 471.82,261.15 477,262.45 509.8,270.7" stroke="#dd80de" stroke-width="1.3"/>
<path d="M375.89,219.78 377.19,217.19 378.48,213.3 379.78,211.35 381.07,214.59 382.37,218.48 384.32,221.08 386.26,221.72 388.2,223.67 390.15,223.02 392.09,221.72 394.04,223.02 396.63,224.32 399.22,225.61 401.82,225.61 404.41,226.91 407,228.09 410.89,228.74 414.78,230.69 418.67,235.87 422.56,240.41 426.45,242.35 430.33,243 434.22,243.65 439.41,245.59 443.3,246.89 447.19,249.48 451.08,251.43 456.26,254.02 461.45,256.61 465.34,259.21 470.52,260.5 477,262.45 509.8,270.7" stroke="#7d1080" stroke-width="1.3"/>
<path d="M375.63,224.96 376.54,226.26 377.83,223.67 379.78,221.72 381.07,226.26 383.02,227.56 384.96,231.45 386.91,234.04 388.85,231.45 391.45,228.85 394.04,228.21 396.63,227.56 399.22,228.85 401.82,229.5 405.7,230.8 407,230.69 410.89,232.63 414.78,233.93 418.67,235.87 423.85,241.7 427.74,243 432.93,243.65 438.11,244.95 443.3,246.89 448.48,248.19 453.67,249.48 458.85,251.43 466.63,254.02 477,257.91 509.8,270.7" stroke="#f8d830" stroke-width="1.3"/>
<path d="M374.85,179.59 375.24,202.93 375.89,215.89 377.19,209.41 379.13,206.82 380.43,204.87 381.72,208.11 383.02,214.59 384.96,215.89 386.91,216.54 388.85,215.24 391.45,214.59 393.39,213.95 395.33,215.24 397.93,217.19 400.52,217.83 403.11,219.13 405.7,221.08 407,220.96 410.89,222.91 414.78,224.85 418.67,226.15 422.56,228.09 426.45,230.69 430.33,231.98 434.22,233.28 438.11,237.17 442,239.11 445.89,242.35 448.48,245.59 451.08,246.24 458.85,249.48 466.63,252.72 477,257.26 509.8,270.7" stroke="#fa9020" stroke-width="1.3"/>
</g>
<rect x="372.2" y="177.2" width="139.3" height="124.7" fill="none" stroke="#262626" stroke-width="0.9"/>
<path d="M374.88,301.9 v2.4 M372.2,299.5 h-2.4 M401.67,301.9 v2.4 M372.2,275.52 h-2.4 M428.46,301.9 v2.4 M372.2,251.54 h-2.4 M455.24,301.9 v2.4 M372.2,227.56 h-2.4 M482.03,301.9 v2.4 M372.2,203.58 h-2.4 M508.82,301.9 v2.4 M372.2,179.6 h-2.4" stroke="#000" stroke-width="0.6" fill="none"/>
<g font-family="Liberation Sans, sans-serif" font-size="6.3" fill="#222" stroke="#222" stroke-width="0.16"><text x="374.88" y="311.5" text-anchor="middle">0.0</text><text transform="translate(367.3,301.95) scale(1,0.9)" text-anchor="end">0.0</text><text x="401.67" y="311.5" text-anchor="middle">0.2</text><text transform="translate(367.3,277.97) scale(1,0.9)" text-anchor="end">0.2</text><text x="428.46" y="311.5" text-anchor="middle">0.4</text><text transform="translate(367.3,253.99) scale(1,0.9)" text-anchor="end">0.4</text><text x="455.24" y="311.5" text-anchor="middle">0.6</text><text transform="translate(367.3,230.01) scale(1,0.9)" text-anchor="end">0.6</text><text x="482.03" y="311.5" text-anchor="middle">0.8</text><text transform="translate(367.3,206.03) scale(1,0.9)" text-anchor="end">0.8</text><text x="508.82" y="311.5" text-anchor="middle">1.0</text><text transform="translate(367.3,182.05) scale(1,0.9)" text-anchor="end">1.0</text></g>
<g font-family="Liberation Serif, serif" fill="#111" stroke="#111" stroke-width="0.12">
<text x="441.85" y="321.5" text-anchor="middle" font-size="8.3">recall</text>
<text transform="translate(354.3,239.55) rotate(-90)" text-anchor="middle" font-size="8.3">precision</text>
<text x="441.85" y="173.1" text-anchor="middle" font-size="9.4">PR</text>
</g>
<rect x="456.1" y="179.8" width="52.7" height="51.2" rx="1.5" fill="#fff" fill-opacity="0.8" stroke="#d0d0d0" stroke-width="0.6"/>
<g font-family="Liberation Sans, sans-serif" font-size="6.2" fill="#222" stroke="#222" stroke-width="0.18"><path d="M458.1,184.4 h12" stroke="#94eb94" stroke-width="1.3"/><text transform="translate(474.2,186.6) scale(0.9,1)">S-PIN</text><path d="M458.1,192.64 h12" stroke="#108010" stroke-width="1.3"/><text transform="translate(474.2,194.84) scale(0.9,1)">CM-PIN(S)</text><path d="M458.1,200.88 h12" stroke="#dd80de" stroke-width="1.3"/><text transform="translate(474.2,203.08) scale(0.9,1)">D-PIN</text><path d="M458.1,209.12 h12" stroke="#7d1080" stroke-width="1.3"/><text transform="translate(474.2,211.32) scale(0.9,1)">CM-PIN(D)</text><path d="M458.1,217.36 h12" stroke="#f8d830" stroke-width="1.3"/><text transform="translate(474.2,219.56) scale(0.9,1)">RD-PIN</text><path d="M458.1,225.6 h12" stroke="#fa9020" stroke-width="1.3"/><text transform="translate(474.2,227.8) scale(0.9,1)">CM-PIN(RD)</text></g>
<clipPath id="c7"><rect x="544.8" y="177.2" width="139.3" height="124.7"/></clipPath>
<g clip-path="url(#c7)" fill="none" stroke-linejoin="round" stroke-linecap="square">
<path d="M547.89,298.86 547.89,192.56 551.78,241.82 554.37,248.3 559.56,250.89 564.74,249.6 569.93,249.6 575.11,248.3 580.3,248.3 585.48,250.89 585.48,250.78 589.37,252.08 593.26,253.37 598.45,254.67 603.63,255.96 608.82,257.26 614,258.56 619.19,259.85 624.37,261.15 630.85,262.45 637.34,263.74 649,265.04 681.4,270.7" stroke="#94eb94" stroke-width="1.3"/>
<path d="M549.19,195.15 549.83,219.78 551.13,224.96 552.43,228.85 554.37,232.74 556.96,234.04 559.56,234.04 562.15,234.69 564.74,235.34 567.33,235.98 569.93,235.98 573.82,236.63 577.7,238.58 579,239.76 582.89,242.35 586.78,243.65 590.67,244.95 593.26,246.89 597.15,247.54 602.33,248.19 607.52,249.48 612.7,250.78 617.89,252.08 623.08,253.37 628.26,254.67 633.45,255.96 638.63,257.26 649,259.21 681.4,270.7" stroke="#108010" stroke-width="1.3"/>
<path d="M547.89,234.04 549.19,241.82 551.78,237.93 555.67,240.52 559.56,243.11 564.74,244.41 569.93,245.71 575.11,247 579,250.13 581.59,248.83 584.19,249.48 586.78,251.43 589.37,252.72 593.26,252.72 597.15,253.37 601.04,254.02 604.93,255.96 608.82,257.26 614,257.91 619.19,259.21 624.37,259.85 630.85,260.5 637.34,261.15 649,263.09 681.4,270.7" stroke="#dd80de" stroke-width="1.3"/>
<path d="M547.89,192.56 548.54,202.93 549.83,209.41 551.13,215.89 552.43,222.37 554.37,224.96 556.32,226.91 558.26,229.5 560.2,230.15 562.15,229.5 564.09,230.8 566.04,232.74 567.98,234.04 569.93,234.69 572.52,235.34 575.11,236.63 577.7,237.93 579,238.46 582.89,241.06 586.78,242.35 590.67,242.35 593.26,242.35 595.85,245.59 599.74,246.89 604.93,248.19 610.11,249.48 615.3,250.13 620.48,250.78 625.67,252.72 630.85,254.67 637.34,256.61 649,259.85 681.4,270.7" stroke="#7d1080" stroke-width="1.3"/>
<path d="M548.54,219.78 549.83,228.85 551.13,226.26 552.43,231.45 554.37,232.09 556.96,232.74 559.56,233.39 562.15,234.04 564.74,234.69 567.33,235.34 569.93,235.34 573.82,235.34 577.7,235.98 579,235.87 581.59,238.46 584.19,239.11 586.78,240.41 590.67,241.06 593.26,242.35 595.85,243 599.74,244.95 603.63,244.95 607.52,245.59 612.7,244.95 617.89,244.3 620.48,245.59 681.4,270.7" stroke="#f8d830" stroke-width="1.3"/>
<path d="M547.63,179.59 547.63,215.89 549.19,221.08 550.48,218.48 551.78,219.78 553.07,223.67 554.37,221.08 556.32,218.48 558.26,219.78 560.2,222.37 562.15,221.72 564.09,221.08 566.04,221.72 567.98,221.08 569.28,223.67 571.22,226.26 573.17,228.85 575.11,230.15 577.7,230.8 579,231.33 580.94,231.98 582.89,235.22 586.78,234.58 590.67,235.87 594.56,235.22 598.45,235.87 602.33,235.87 606.22,235.22 610.11,235.22 681.4,270.7" stroke="#fa9020" stroke-width="1.3"/>
</g>
<rect x="544.8" y="177.2" width="139.3" height="124.7" fill="none" stroke="#262626" stroke-width="0.9"/>
<path d="M547.48,301.9 v2.4 M544.8,299.5 h-2.4 M574.27,301.9 v2.4 M544.8,275.52 h-2.4 M601.06,301.9 v2.4 M544.8,251.54 h-2.4 M627.84,301.9 v2.4 M544.8,227.56 h-2.4 M654.63,301.9 v2.4 M544.8,203.58 h-2.4 M681.42,301.9 v2.4 M544.8,179.6 h-2.4" stroke="#000" stroke-width="0.6" fill="none"/>
<g font-family="Liberation Sans, sans-serif" font-size="6.3" fill="#222" stroke="#222" stroke-width="0.16"><text x="547.48" y="311.5" text-anchor="middle">0.0</text><text transform="translate(539.9,301.95) scale(1,0.9)" text-anchor="end">0.0</text><text x="574.27" y="311.5" text-anchor="middle">0.2</text><text transform="translate(539.9,277.97) scale(1,0.9)" text-anchor="end">0.2</text><text x="601.06" y="311.5" text-anchor="middle">0.4</text><text transform="translate(539.9,253.99) scale(1,0.9)" text-anchor="end">0.4</text><text x="627.84" y="311.5" text-anchor="middle">0.6</text><text transform="translate(539.9,230.01) scale(1,0.9)" text-anchor="end">0.6</text><text x="654.63" y="311.5" text-anchor="middle">0.8</text><text transform="translate(539.9,206.03) scale(1,0.9)" text-anchor="end">0.8</text><text x="681.42" y="311.5" text-anchor="middle">1.0</text><text transform="translate(539.9,182.05) scale(1,0.9)" text-anchor="end">1.0</text></g>
<g font-family="Liberation Serif, serif" fill="#111" stroke="#111" stroke-width="0.12">
<text x="614.45" y="321.5" text-anchor="middle" font-size="8.3">recall</text>
<text transform="translate(526.9,239.55) rotate(-90)" text-anchor="middle" font-size="8.3">precision</text>
<text x="614.45" y="173.1" text-anchor="middle" font-size="9.4">BC</text>
</g>
<rect x="628.7" y="179.8" width="52.7" height="51.2" rx="1.5" fill="#fff" fill-opacity="0.8" stroke="#d0d0d0" stroke-width="0.6"/>
<g font-family="Liberation Sans, sans-serif" font-size="6.2" fill="#222" stroke="#222" stroke-width="0.18"><path d="M630.7,184.4 h12" stroke="#94eb94" stroke-width="1.3"/><text transform="translate(646.8,186.6) scale(0.9,1)">S-PIN</text><path d="M630.7,192.64 h12" stroke="#108010" stroke-width="1.3"/><text transform="translate(646.8,194.84) scale(0.9,1)">CM-PIN(S)</text><path d="M630.7,200.88 h12" stroke="#dd80de" stroke-width="1.3"/><text transform="translate(646.8,203.08) scale(0.9,1)">D-PIN</text><path d="M630.7,209.12 h12" stroke="#7d1080" stroke-width="1.3"/><text transform="translate(646.8,211.32) scale(0.9,1)">CM-PIN(D)</text><path d="M630.7,217.36 h12" stroke="#f8d830" stroke-width="1.3"/><text transform="translate(646.8,219.56) scale(0.9,1)">RD-PIN</text><path d="M630.7,225.6 h12" stroke="#fa9020" stroke-width="1.3"/><text transform="translate(646.8,227.8) scale(0.9,1)">CM-PIN(RD)</text></g>
<clipPath id="c8"><rect x="27" y="340.8" width="139.3" height="124.7"/></clipPath>
<g clip-path="url(#c8)" fill="none" stroke-linejoin="round" stroke-linecap="square">
<path d="M29.59,461.86 29.59,394.45 32.19,395.74 34.78,402.22 37.37,408.71 42.56,408.71 47.74,410 62,409.89 65.89,411.19 69.78,413.78 73.67,415.72 77.56,417.02 81.45,418.96 85.33,420.26 89.22,420.91 93.11,422.21 97,422.85 100.89,422.85 106.08,423.5 111.26,424.15 116.45,424.8 122.93,426.74 132,428.69 163.6,434.3" stroke="#94eb94" stroke-width="1.3"/>
<path d="M32.19,398.34 33.48,395.09 35.43,394.45 37.37,394.45 39.32,395.09 41.26,397.69 43.2,397.04 45.15,398.34 47.09,399.63 49.04,400.28 51.63,400.93 54.22,400.93 56.82,401.58 59.41,401.58 62,402.76 64.59,406.65 68.48,407.95 73.67,408.59 78.85,408.59 82.74,409.24 87.93,409.89 93.11,409.89 95.7,411.19 98.3,413.13 103.48,415.72 108.67,418.32 113.85,420.26 120.34,422.85 132,425.45 163.6,434.3" stroke="#108010" stroke-width="1.3"/>
<path d="M30.89,395.74 33.48,400.93 36.07,395.74 38.67,400.93 42.56,402.22 43.85,402.22 62,411.19 65.89,411.83 69.78,412.48 73.67,414.43 77.56,415.72 81.45,416.37 85.33,417.67 89.22,418.96 93.11,420.26 97,420.91 100.89,422.21 104.78,423.5 109.96,424.15 116.45,425.45 122.93,427.39 132,429.34 163.6,434.3" stroke="#dd80de" stroke-width="1.3"/>
<path d="M30.63,365.93 30.89,371.11 31.54,385.37 32.83,382.78 34.13,381.48 35.43,380.83 36.72,382.13 38.02,387.96 39.96,389.26 41.91,387.96 43.85,389.91 45.8,389.91 47.74,393.15 49.69,393.15 51.63,393.15 53.58,397.04 55.52,399.63 58.11,399.63 60.7,398.98 62,398.87 64.59,402.11 68.48,402.11 72.37,402.76 74.96,404.7 78.85,406.65 82.74,407.3 86.63,409.24 90.52,411.19 94.41,412.48 98.3,414.43 103.48,416.37 107.37,418.32 113.85,420.26 120.34,422.85 132,426.09 163.6,434.3" stroke="#7d1080" stroke-width="1.3"/>
<path d="M32.19,389.26 33.48,384.08 34.78,384.72 36.07,386.02 38.02,384.72 39.96,387.32 41.91,389.26 43.85,390.56 45.8,393.15 47.74,394.45 50.33,393.8 52.93,394.45 55.52,395.74 58.11,396.39 60.7,397.04 62,394.98 65.89,396.28 69.78,395.63 74.96,396.28 77.56,398.22 81.45,400.82 85.33,403.41 89.22,404.7 93.11,406 97,407.3 100.89,409.89 106.08,412.48 113.85,415.72 121.63,418.32 132,422.21 163.6,434.3" stroke="#f8d830" stroke-width="1.3"/>
<path d="M29.85,343.24 30.24,378.89 31.54,394.45 32.83,378.89 34.13,375 35.43,375.65 36.72,378.24 38.02,380.19 39.96,382.13 41.91,384.08 43.85,386.02 45.8,387.32 47.74,389.91 49.69,391.21 51.63,391.85 52.93,393.15 54.87,391.85 56.82,390.56 59.41,389.26 62,389.8 65.89,390.45 69.78,389.8 72.37,390.45 74.96,393.69 78.85,396.28 82.74,398.22 86.63,400.82 90.52,404.06 94.41,406 98.3,407.3 102.19,409.24 107.37,411.83 113.85,415.08 120.34,417.67 132,420.91 163.6,434.3" stroke="#fa9020" stroke-width="1.3"/>
</g>
<rect x="27" y="340.8" width="139.3" height="124.7" fill="none" stroke="#262626" stroke-width="0.9"/>
<path d="M29.68,465.5 v2.4 M27,463.1 h-2.4 M56.47,465.5 v2.4 M27,439.12 h-2.4 M83.26,465.5 v2.4 M27,415.14 h-2.4 M110.04,465.5 v2.4 M27,391.16 h-2.4 M136.83,465.5 v2.4 M27,367.18 h-2.4 M163.62,465.5 v2.4 M27,343.2 h-2.4" stroke="#000" stroke-width="0.6" fill="none"/>
<g font-family="Liberation Sans, sans-serif" font-size="6.3" fill="#222" stroke="#222" stroke-width="0.16"><text x="29.68" y="475.1" text-anchor="middle">0.0</text><text transform="translate(22.1,465.55) scale(1,0.9)" text-anchor="end">0.0</text><text x="56.47" y="475.1" text-anchor="middle">0.2</text><text transform="translate(22.1,441.57) scale(1,0.9)" text-anchor="end">0.2</text><text x="83.26" y="475.1" text-anchor="middle">0.4</text><text transform="translate(22.1,417.59) scale(1,0.9)" text-anchor="end">0.4</text><text x="110.04" y="475.1" text-anchor="middle">0.6</text><text transform="translate(22.1,393.61) scale(1,0.9)" text-anchor="end">0.6</text><text x="136.83" y="475.1" text-anchor="middle">0.8</text><text transform="translate(22.1,369.63) scale(1,0.9)" text-anchor="end">0.8</text><text x="163.62" y="475.1" text-anchor="middle">1.0</text><text transform="translate(22.1,345.65) scale(1,0.9)" text-anchor="end">1.0</text></g>
<g font-family="Liberation Serif, serif" fill="#111" stroke="#111" stroke-width="0.12">
<text x="96.65" y="485.1" text-anchor="middle" font-size="8.3">recall</text>
<text transform="translate(9.1,403.15) rotate(-90)" text-anchor="middle" font-size="8.3">precision</text>
<text x="96.65" y="336.7" text-anchor="middle" font-size="9.4">CC</text>
</g>
<rect x="110.9" y="343.4" width="52.7" height="51.2" rx="1.5" fill="#fff" fill-opacity="0.8" stroke="#d0d0d0" stroke-width="0.6"/>
<g font-family="Liberation Sans, sans-serif" font-size="6.2" fill="#222" stroke="#222" stroke-width="0.18"><path d="M112.9,348 h12" stroke="#94eb94" stroke-width="1.3"/><text transform="translate(129,350.2) scale(0.9,1)">S-PIN</text><path d="M112.9,356.24 h12" stroke="#108010" stroke-width="1.3"/><text transform="translate(129,358.44) scale(0.9,1)">CM-PIN(S)</text><path d="M112.9,364.48 h12" stroke="#dd80de" stroke-width="1.3"/><text transform="translate(129,366.68) scale(0.9,1)">D-PIN</text><path d="M112.9,372.72 h12" stroke="#7d1080" stroke-width="1.3"/><text transform="translate(129,374.92) scale(0.9,1)">CM-PIN(D)</text><path d="M112.9,380.96 h12" stroke="#f8d830" stroke-width="1.3"/><text transform="translate(129,383.16) scale(0.9,1)">RD-PIN</text><path d="M112.9,389.2 h12" stroke="#fa9020" stroke-width="1.3"/><text transform="translate(129,391.4) scale(0.9,1)">CM-PIN(RD)</text></g>
<clipPath id="c9"><rect x="199.6" y="340.8" width="139.3" height="124.7"/></clipPath>
<g clip-path="url(#c9)" fill="none" stroke-linejoin="round" stroke-linecap="square">
<path d="M202.89,461.86 202.89,410 204.19,391.85 206.78,397.04 210.67,400.93 214.56,399.63 219.74,402.22 224.93,404.82 230.11,404.82 232.7,405.6 234,406 237.89,406.65 241.78,406.65 245.67,407.95 249.56,409.24 253.45,410.54 257.33,413.13 261.22,415.08 265.11,417.02 269,418.32 272.89,419.61 278.08,420.91 283.26,422.21 288.45,423.5 294.93,424.15 304,425.45 336.2,434.3" stroke="#94eb94" stroke-width="1.3"/>
<path d="M203.54,378.89 204.19,372.41 205.48,371.76 206.13,378.89 207.43,384.08 209.37,386.02 211.32,386.02 213.26,387.32 215.2,388.61 217.15,389.91 219.74,389.91 222.33,391.21 224.93,391.85 227.52,390.56 230.11,391.21 232.7,393.15 234,394.33 237.89,396.93 241.78,398.87 245.67,400.17 249.56,400.82 253.45,402.11 257.33,404.06 261.22,405.35 265.11,406.65 269,408.59 272.89,409.89 276.78,411.83 280.67,414.43 285.85,418.32 291.04,421.56 296.22,423.5 304,426.09 336.2,434.3" stroke="#108010" stroke-width="1.3"/>
<path d="M202.5,382.78 202.89,403 204.19,389.26 205.48,384.08 206.78,387.96 208.07,389.26 209.37,387.32 211.32,387.96 213.26,390.56 215.2,389.91 217.15,391.85 219.74,393.15 222.33,395.09 224.93,395.74 227.52,396.39 230.11,397.04 232.7,398.34 234,398.87 237.89,400.17 241.78,401.46 245.67,402.76 249.56,404.7 253.45,406.65 257.33,409.24 261.22,411.83 265.11,413.78 269,415.72 272.89,417.02 276.78,418.32 280.67,419.61 285.85,420.26 291.04,421.56 297.52,424.15 304,426.74 336.2,434.3" stroke="#dd80de" stroke-width="1.3"/>
<path d="M206.13,369.82 207.43,375 209.37,377.59 211.32,378.89 213.26,376.3 215.2,375 217.15,376.95 219.74,378.89 222.33,380.19 224.93,380.83 227.52,381.48 230.11,382.78 232.7,384.72 234,383.96 235.94,383.96 237.89,387.2 241.78,389.8 245.67,393.04 249.56,394.98 253.45,396.93 257.33,398.87 261.22,402.11 265.11,405.35 269,407.95 272.89,409.89 276.78,413.13 280.67,415.72 284.56,418.32 288.45,420.91 292.34,422.85 297.52,424.8 304,426.09 336.2,434.3" stroke="#7d1080" stroke-width="1.3"/>
<path d="M206.78,372.41 208.72,376.95 210.67,375 212.61,373.7 214.56,374.35 215.2,381.48 217.15,382.78 219.74,382.13 222.33,382.78 224.93,383.43 227.52,382.13 230.11,382.78 232.7,384.72 234,385.26 237.89,385.91 241.78,387.2 245.67,388.5 249.56,390.45 253.45,393.04 257.33,396.28 261.22,400.17 265.11,402.76 269,405.35 272.89,407.95 276.78,409.89 281.96,412.48 288.45,415.08 294.93,417.67 304,421.56 336.2,434.3" stroke="#f8d830" stroke-width="1.3"/>
<path d="M202.5,343.24 202.5,381.48 203.54,359.45 204.83,372.41 206.13,364.63 207.43,369.82 208.72,371.11 210.67,368.52 212.61,365.93 213.91,367.87 215.2,372.41 217.15,371.11 219.09,370.46 221.04,373.7 222.98,372.41 224.93,371.76 226.87,371.11 228.82,373.06 231.41,375.65 234,376.3 234,376.19 237.89,378.78 241.78,381.37 245.67,383.32 249.56,385.26 253.45,387.85 257.33,391.09 261.22,394.33 265.11,396.93 269,401.46 272.89,404.7 276.78,408.59 279.37,409.89 285.85,413.13 292.34,415.72 304,420.91 336.2,434.3" stroke="#fa9020" stroke-width="1.3"/>
</g>
<rect x="199.6" y="340.8" width="139.3" height="124.7" fill="none" stroke="#262626" stroke-width="0.9"/>
<path d="M202.28,465.5 v2.4 M199.6,463.1 h-2.4 M229.07,465.5 v2.4 M199.6,439.12 h-2.4 M255.86,465.5 v2.4 M199.6,415.14 h-2.4 M282.64,465.5 v2.4 M199.6,391.16 h-2.4 M309.43,465.5 v2.4 M199.6,367.18 h-2.4 M336.22,465.5 v2.4 M199.6,343.2 h-2.4" stroke="#000" stroke-width="0.6" fill="none"/>
<g font-family="Liberation Sans, sans-serif" font-size="6.3" fill="#222" stroke="#222" stroke-width="0.16"><text x="202.28" y="475.1" text-anchor="middle">0.0</text><text transform="translate(194.7,465.55) scale(1,0.9)" text-anchor="end">0.0</text><text x="229.07" y="475.1" text-anchor="middle">0.2</text><text transform="translate(194.7,441.57) scale(1,0.9)" text-anchor="end">0.2</text><text x="255.86" y="475.1" text-anchor="middle">0.4</text><text transform="translate(194.7,417.59) scale(1,0.9)" text-anchor="end">0.4</text><text x="282.64" y="475.1" text-anchor="middle">0.6</text><text transform="translate(194.7,393.61) scale(1,0.9)" text-anchor="end">0.6</text><text x="309.43" y="475.1" text-anchor="middle">0.8</text><text transform="translate(194.7,369.63) scale(1,0.9)" text-anchor="end">0.8</text><text x="336.22" y="475.1" text-anchor="middle">1.0</text><text transform="translate(194.7,345.65) scale(1,0.9)" text-anchor="end">1.0</text></g>
<g font-family="Liberation Serif, serif" fill="#111" stroke="#111" stroke-width="0.12">
<text x="269.25" y="485.1" text-anchor="middle" font-size="8.3">recall</text>
<text transform="translate(181.7,403.15) rotate(-90)" text-anchor="middle" font-size="8.3">precision</text>
<text x="269.25" y="336.7" text-anchor="middle" font-size="9.4">TP</text>
</g>
<rect x="283.5" y="343.4" width="52.7" height="51.2" rx="1.5" fill="#fff" fill-opacity="0.8" stroke="#d0d0d0" stroke-width="0.6"/>
<g font-family="Liberation Sans, sans-serif" font-size="6.2" fill="#222" stroke="#222" stroke-width="0.18"><path d="M285.5,348 h12" stroke="#94eb94" stroke-width="1.3"/><text transform="translate(301.6,350.2) scale(0.9,1)">S-PIN</text><path d="M285.5,356.24 h12" stroke="#108010" stroke-width="1.3"/><text transform="translate(301.6,358.44) scale(0.9,1)">CM-PIN(S)</text><path d="M285.5,364.48 h12" stroke="#dd80de" stroke-width="1.3"/><text transform="translate(301.6,366.68) scale(0.9,1)">D-PIN</text><path d="M285.5,372.72 h12" stroke="#7d1080" stroke-width="1.3"/><text transform="translate(301.6,374.92) scale(0.9,1)">CM-PIN(D)</text><path d="M285.5,380.96 h12" stroke="#f8d830" stroke-width="1.3"/><text transform="translate(301.6,383.16) scale(0.9,1)">RD-PIN</text><path d="M285.5,389.2 h12" stroke="#fa9020" stroke-width="1.3"/><text transform="translate(301.6,391.4) scale(0.9,1)">CM-PIN(RD)</text></g>
<clipPath id="c10"><rect x="372.2" y="340.8" width="139.3" height="124.7"/></clipPath>
<g clip-path="url(#c10)" fill="none" stroke-linejoin="round" stroke-linecap="square">
<path d="M376.54,365.93 377.83,368.52 379.13,367.87 380.43,369.82 382.37,372.41 384.32,375 386.26,376.3 388.2,377.59 390.15,378.24 392.09,378.89 394.69,380.19 397.28,381.48 399.87,385.37 402.46,387.32 405.06,388.61 407,390.56 410.89,393.69 414.78,398.87 418.67,404.06 422.56,407.3 426.45,410.54 430.33,413.78 434.22,416.37 438.11,418.96 442,422.21 445.89,423.5 451.08,424.8 456.26,425.45 461.45,426.09 466.63,428.04 471.82,429.34 477,431.28 488.67,432.04 509.8,434.3" stroke="#94eb94" stroke-width="1.3"/>
<path d="M377.83,358.15 379.78,355.56 381.07,354.91 382.37,361.39 384.32,363.98 386.26,364.63 388.2,365.93 390.15,367.22 392.09,367.87 394.04,369.17 395.98,371.11 397.93,373.06 399.87,374.35 401.82,375.65 404.41,376.95 407,378.89 407,379.43 409.59,382.67 412.19,386.56 414.78,390.45 417.37,394.33 419.96,398.87 422.56,402.76 425.15,406 429.04,407.95 432.93,409.89 436.82,411.83 440.7,413.13 445.89,415.08 451.08,417.67 456.26,420.26 461.45,422.21 466.63,424.15 471.82,426.74 477,429.98 486.08,433.34 501.63,433.86 509.8,434.3" stroke="#108010" stroke-width="1.3"/>
<path d="M374.8,463.3 374.85,378.89 376.54,381.48 377.83,377.59 379.13,380.19 380.43,376.3 382.37,375 384.32,376.3 386.26,378.89 388.2,380.19 390.15,379.54 392.09,380.19 394.04,378.89 395.98,381.48 397.93,384.08 399.87,386.67 402.46,387.96 405.06,388.61 407,389.91 409.59,393.04 412.19,395.63 414.78,398.87 417.37,400.82 419.96,402.76 422.56,405.35 425.15,408.59 427.74,411.19 430.33,413.78 434.22,415.72 438.11,417.02 442,418.32 445.89,420.91 449.78,422.21 454.96,423.5 460.15,424.8 465.34,426.09 470.52,427.39 477,428.04 491.26,432.04 501.63,433.34 509.8,434.3" stroke="#dd80de" stroke-width="1.3"/>
<path d="M376.54,358.15 377.83,355.56 379.13,362.04 380.43,359.45 382.37,362.04 384.32,363.33 386.26,363.98 388.2,364.63 390.15,365.28 392.09,367.22 394.04,368.52 395.98,371.11 397.93,373.06 399.87,374.35 401.82,375.65 404.41,377.59 407,378.89 409.59,381.37 412.19,385.26 414.78,389.15 417.37,393.04 419.96,396.93 422.56,400.17 425.15,402.76 427.74,405.35 430.33,407.3 434.22,409.24 438.11,411.19 442,413.13 445.89,415.08 451.08,417.02 456.26,418.96 461.45,420.91 466.63,422.21 471.82,424.15 477,426.09 488.67,432.04 509.8,434.3" stroke="#7d1080" stroke-width="1.3"/>
<path d="M375.63,377.59 376.54,372.41 377.83,371.11 379.13,368.52 380.43,371.11 382.37,372.41 384.32,374.35 386.26,375.65 388.2,374.35 390.15,372.41 392.09,371.76 394.04,375 395.98,377.59 397.93,380.83 400.52,383.43 403.11,386.02 405.7,387.32 407,387.96 409.59,391.74 413.48,394.98 417.37,396.93 419.96,400.17 422.56,403.41 426.45,406 430.33,407.95 434.22,409.89 438.11,411.83 443.3,413.13 448.48,415.08 453.67,416.37 458.85,417.02 464.04,417.67 469.22,419.61 477,422.85 509.8,434.3" stroke="#f8d830" stroke-width="1.3"/>
<path d="M375.24,343.24 375.24,377.59 376.54,358.15 377.83,360.74 379.13,358.8 380.43,358.15 382.37,360.09 384.32,361.39 386.26,361.39 388.2,359.45 390.15,358.8 392.09,361.39 394.04,363.33 395.98,367.22 397.93,371.11 399.87,371.76 401.82,372.41 404.41,373.7 406.35,375 407.65,377.59 409.59,379.43 412.19,382.02 414.78,385.26 417.37,387.85 419.96,389.8 423.85,393.04 427.74,396.28 431.63,398.87 435.52,401.46 439.41,404.06 443.3,406 448.48,408.59 454.96,411.83 461.45,415.08 469.22,418.32 477,421.56 509.8,434.3" stroke="#fa9020" stroke-width="1.3"/>
</g>
<rect x="372.2" y="340.8" width="139.3" height="124.7" fill="none" stroke="#262626" stroke-width="0.9"/>
<path d="M374.88,465.5 v2.4 M372.2,463.1 h-2.4 M401.67,465.5 v2.4 M372.2,439.12 h-2.4 M428.46,465.5 v2.4 M372.2,415.14 h-2.4 M455.24,465.5 v2.4 M372.2,391.16 h-2.4 M482.03,465.5 v2.4 M372.2,367.18 h-2.4 M508.82,465.5 v2.4 M372.2,343.2 h-2.4" stroke="#000" stroke-width="0.6" fill="none"/>
<g font-family="Liberation Sans, sans-serif" font-size="6.3" fill="#222" stroke="#222" stroke-width="0.16"><text x="374.88" y="475.1" text-anchor="middle">0.0</text><text transform="translate(367.3,465.55) scale(1,0.9)" text-anchor="end">0.0</text><text x="401.67" y="475.1" text-anchor="middle">0.2</text><text transform="translate(367.3,441.57) scale(1,0.9)" text-anchor="end">0.2</text><text x="428.46" y="475.1" text-anchor="middle">0.4</text><text transform="translate(367.3,417.59) scale(1,0.9)" text-anchor="end">0.4</text><text x="455.24" y="475.1" text-anchor="middle">0.6</text><text transform="translate(367.3,393.61) scale(1,0.9)" text-anchor="end">0.6</text><text x="482.03" y="475.1" text-anchor="middle">0.8</text><text transform="translate(367.3,369.63) scale(1,0.9)" text-anchor="end">0.8</text><text x="508.82" y="475.1" text-anchor="middle">1.0</text><text transform="translate(367.3,345.65) scale(1,0.9)" text-anchor="end">1.0</text></g>
<g font-family="Liberation Serif, serif" fill="#111" stroke="#111" stroke-width="0.12">
<text x="441.85" y="485.1" text-anchor="middle" font-size="8.3">recall</text>
<text transform="translate(354.3,403.15) rotate(-90)" text-anchor="middle" font-size="8.3">precision</text>
<text x="441.85" y="336.7" text-anchor="middle" font-size="9.4">PeC</text>
</g>
<rect x="456.1" y="343.4" width="52.7" height="51.2" rx="1.5" fill="#fff" fill-opacity="0.8" stroke="#d0d0d0" stroke-width="0.6"/>
<g font-family="Liberation Sans, sans-serif" font-size="6.2" fill="#222" stroke="#222" stroke-width="0.18"><path d="M458.1,348 h12" stroke="#94eb94" stroke-width="1.3"/><text transform="translate(474.2,350.2) scale(0.9,1)">S-PIN</text><path d="M458.1,356.24 h12" stroke="#108010" stroke-width="1.3"/><text transform="translate(474.2,358.44) scale(0.9,1)">CM-PIN(S)</text><path d="M458.1,364.48 h12" stroke="#dd80de" stroke-width="1.3"/><text transform="translate(474.2,366.68) scale(0.9,1)">D-PIN</text><path d="M458.1,372.72 h12" stroke="#7d1080" stroke-width="1.3"/><text transform="translate(474.2,374.92) scale(0.9,1)">CM-PIN(D)</text><path d="M458.1,380.96 h12" stroke="#f8d830" stroke-width="1.3"/><text transform="translate(474.2,383.16) scale(0.9,1)">RD-PIN</text><path d="M458.1,389.2 h12" stroke="#fa9020" stroke-width="1.3"/><text transform="translate(474.2,391.4) scale(0.9,1)">CM-PIN(RD)</text></g>
<clipPath id="c11"><rect x="544.8" y="340.8" width="139.3" height="124.7"/></clipPath>
<g clip-path="url(#c11)" fill="none" stroke-linejoin="round" stroke-linecap="square">
<path d="M551.78,371.11 554.37,370.46 556.96,371.11 559.56,372.41 562.15,374.35 564.74,375 567.33,375.65 569.93,376.95 572.52,378.89 575.11,379.54 577.7,380.83 580.3,382.13 582.89,383.43 585.48,386.02 588.08,387.96 590,390.45 593.89,393.69 597.78,396.93 601.67,400.17 605.56,402.11 609.45,404.7 613.33,406.65 617.22,409.24 621.11,411.83 625,415.72 628.89,417.02 634.08,418.96 639.26,420.91 645.74,424.15 652.22,426.74 660,430.63 681.4,434.3" stroke="#94eb94" stroke-width="1.3"/>
<path d="M551.78,356.85 554.37,357.5 556.32,362.04 558.26,365.93 560.2,367.87 562.15,368.52 564.09,367.87 566.04,367.22 567.98,367.87 569.93,367.87 571.87,369.17 573.82,371.76 576.41,374.35 579,375.65 581.59,377.59 584.19,379.54 586.78,381.48 590,382.67 592.59,385.26 596.48,389.8 600.37,394.33 604.26,396.93 609.45,400.17 613.33,402.76 617.22,406 621.11,409.89 625,413.13 628.89,415.08 634.08,417.67 639.26,419.61 645.74,422.21 652.22,424.15 660,426.74 681.4,434.3" stroke="#108010" stroke-width="1.3"/>
<path d="M549.19,377.59 551.13,373.7 553.07,373.06 555.02,371.11 556.96,372.41 558.91,371.76 560.85,373.06 562.8,372.41 564.74,375 566.69,376.95 568.63,378.24 571.22,379.54 573.82,381.48 576.41,382.78 579,384.72 581.59,386.02 584.19,387.32 586.78,389.91 590,392.39 593.89,394.98 597.78,398.87 601.67,402.11 605.56,404.06 609.45,406 613.33,407.95 617.22,409.89 621.11,412.48 625,415.08 628.89,418.32 632.78,420.26 637.96,421.56 644.45,424.15 650.93,425.45 660,428.04 681.4,434.3" stroke="#dd80de" stroke-width="1.3"/>
<path d="M549.83,364.63 551.13,362.04 552.43,359.45 553.72,358.15 555.02,360.09 556.32,363.33 558.26,364.63 560.2,363.33 562.15,363.98 564.09,365.28 566.04,365.93 567.98,367.87 569.93,369.17 571.87,371.11 573.82,373.06 576.41,374.35 579,375 581.59,376.95 584.19,378.89 586.78,380.83 590,383.96 592.59,385.26 595.19,389.15 597.78,391.74 600.37,393.69 602.96,394.98 606.85,397.58 610.74,399.52 613.33,401.46 615.93,404.06 618.52,406.65 621.11,409.24 623.7,412.48 627.59,414.43 632.78,417.02 637.96,418.96 644.45,420.91 650.93,423.5 660,426.74 681.4,434.3" stroke="#7d1080" stroke-width="1.3"/>
<path d="M548.93,377.59 549.83,369.82 551.78,367.22 553.72,368.52 555.67,367.87 557.61,368.52 559.56,369.82 561.5,370.46 563.45,371.76 565.39,372.41 567.33,373.06 569.28,373.7 571.22,374.35 573.82,375.65 576.41,376.95 579,377.59 581.59,378.89 584.19,380.19 586.78,382.13 590,387.2 593.89,392.39 597.78,395.63 601.67,396.93 605.56,398.87 609.45,400.82 613.33,403.41 617.22,406 621.11,407.95 626.3,409.89 631.48,411.83 637.96,414.43 644.45,417.67 652.22,420.91 660,424.15 681.4,434.3" stroke="#f8d830" stroke-width="1.3"/>
<path d="M547.89,343.24 548.54,375 549.19,363.33 550.48,356.85 551.78,355.56 553.07,354.26 554.37,355.56 556.32,356.2 558.26,358.8 560.2,360.74 562.15,362.04 564.09,363.33 566.04,363.98 567.98,365.93 569.93,367.22 571.87,367.87 573.82,368.52 576.41,368.52 579,369.17 581.59,370.46 584.19,371.76 586.13,374.35 588.08,377.59 590,379.43 593.89,382.67 597.78,385.26 601.67,387.2 604.91,389.15 606.85,393.69 609.45,396.28 615.93,399.52 623.7,403.41 631.48,407.95 639.26,412.48 647.04,416.37 660,423.5 681.4,434.3" stroke="#fa9020" stroke-width="1.3"/>
</g>
<rect x="544.8" y="340.8" width="139.3" height="124.7" fill="none" stroke="#262626" stroke-width="0.9"/>
<path d="M547.48,465.5 v2.4 M544.8,463.1 h-2.4 M574.27,465.5 v2.4 M544.8,439.12 h-2.4 M601.06,465.5 v2.4 M544.8,415.14 h-2.4 M627.84,465.5 v2.4 M544.8,391.16 h-2.4 M654.63,465.5 v2.4 M544.8,367.18 h-2.4 M681.42,465.5 v2.4 M544.8,343.2 h-2.4" stroke="#000" stroke-width="0.6" fill="none"/>
<g font-family="Liberation Sans, sans-serif" font-size="6.3" fill="#222" stroke="#222" stroke-width="0.16"><text x="547.48" y="475.1" text-anchor="middle">0.0</text><text transform="translate(539.9,465.55) scale(1,0.9)" text-anchor="end">0.0</text><text x="574.27" y="475.1" text-anchor="middle">0.2</text><text transform="translate(539.9,441.57) scale(1,0.9)" text-anchor="end">0.2</text><text x="601.06" y="475.1" text-anchor="middle">0.4</text><text transform="translate(539.9,417.59) scale(1,0.9)" text-anchor="end">0.4</text><text x="627.84" y="475.1" text-anchor="middle">0.6</text><text transform="translate(539.9,393.61) scale(1,0.9)" text-anchor="end">0.6</text><text x="654.63" y="475.1" text-anchor="middle">0.8</text><text transform="translate(539.9,369.63) scale(1,0.9)" text-anchor="end">0.8</text><text x="681.42" y="475.1" text-anchor="middle">1.0</text><text transform="translate(539.9,345.65) scale(1,0.9)" text-anchor="end">1.0</text></g>
<g font-family="Liberation Serif, serif" fill="#111" stroke="#111" stroke-width="0.12">
<text x="614.45" y="485.1" text-anchor="middle" font-size="8.3">recall</text>
<text transform="translate(526.9,403.15) rotate(-90)" text-anchor="middle" font-size="8.3">precision</text>
<text x="614.45" y="336.7" text-anchor="middle" font-size="9.4">WDC</text>
</g>
<rect x="628.7" y="343.4" width="52.7" height="51.2" rx="1.5" fill="#fff" fill-opacity="0.8" stroke="#d0d0d0" stroke-width="0.6"/>
<g font-family="Liberation Sans, sans-serif" font-size="6.2" fill="#222" stroke="#222" stroke-width="0.18"><path d="M630.7,348 h12" stroke="#94eb94" stroke-width="1.3"/><text transform="translate(646.8,350.2) scale(0.9,1)">S-PIN</text><path d="M630.7,356.24 h12" stroke="#108010" stroke-width="1.3"/><text transform="translate(646.8,358.44) scale(0.9,1)">CM-PIN(S)</text><path d="M630.7,364.48 h12" stroke="#dd80de" stroke-width="1.3"/><text transform="translate(646.8,366.68) scale(0.9,1)">D-PIN</text><path d="M630.7,372.72 h12" stroke="#7d1080" stroke-width="1.3"/><text transform="translate(646.8,374.92) scale(0.9,1)">CM-PIN(D)</text><path d="M630.7,380.96 h12" stroke="#f8d830" stroke-width="1.3"/><text transform="translate(646.8,383.16) scale(0.9,1)">RD-PIN</text><path d="M630.7,389.2 h12" stroke="#fa9020" stroke-width="1.3"/><text transform="translate(646.8,391.4) scale(0.9,1)">CM-PIN(RD)</text></g>
</svg></body></html>
